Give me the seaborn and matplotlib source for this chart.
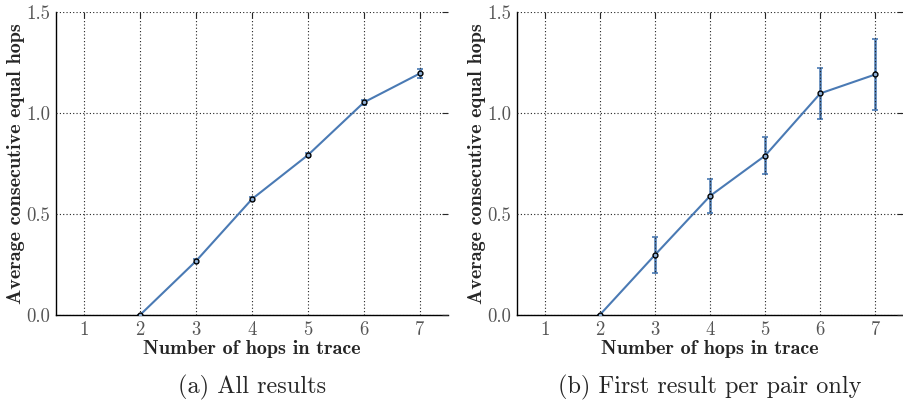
import numpy as np
import pandas as pd
import matplotlib as mpl
mpl.use("Agg")
import matplotlib.pyplot as plt
import seaborn as sns

# Data
hops = [2, 3, 4, 5, 6, 7]
all_mean = [0.0, 0.267, 0.574, 0.792, 1.053, 1.196]
all_err = [0.0, 0.008, 0.008, 0.008, 0.013, 0.022]
first_mean = [0.0, 0.297, 0.589, 0.789, 1.097, 1.191]
first_err = [0.0, 0.090, 0.083, 0.093, 0.127, 0.177]

captions = ["(a) All results", "(b) First result per pair only"]
xlabel = "Number of hops in trace"
ylabel = "Average consecutive equal hops"
line_color = "#4a7ab4"

sns.set_style("white")
plt.rcParams['font.family'] = 'serif'
plt.rcParams['font.serif'] = ['cmr10', 'DejaVu Serif']
plt.rcParams['mathtext.fontset'] = 'cm'
plt.rcParams['axes.formatter.use_mathtext'] = True
plt.rcParams['axes.unicode_minus'] = False

fig = plt.figure(figsize=(9.04, 4.03), dpi=100)
ax1 = fig.add_axes([56 / 904, 88 / 403, 392 / 904, 303 / 403])
ax2 = fig.add_axes([517 / 904, 88 / 403, 386 / 904, 303 / 403])

for ax, mean, err, cap in [(ax1, all_mean, all_err, captions[0]),
                           (ax2, first_mean, first_err, captions[1])]:
    df = pd.DataFrame({"hops": hops, "val": mean})
    ax.errorbar(hops, mean, yerr=err, fmt='none', ecolor=line_color,
                elinewidth=1.8, capsize=2.5, capthick=1.2, zorder=2)
    sns.lineplot(data=df, x="hops", y="val", ax=ax, color=line_color,
                 linewidth=1.5, marker='o', markersize=3.5,
                 markerfacecolor='#8fb0d6', markeredgecolor='black',
                 markeredgewidth=1.0, zorder=3)
    ax.set_xlim(0.5, 7.5)
    ax.set_ylim(0, 1.5)
    ax.set_xticks([1, 2, 3, 4, 5, 6, 7])
    ax.set_yticks([0.0, 0.5, 1.0, 1.5])
    ax.set_yticklabels(["0.0", "0.5", "1.0", "1.5"])
    ax.grid(True, color='#222222', linestyle=(0, (1, 2)), linewidth=0.8)
    ax.set_axisbelow(False)
    for s in ['top', 'right']:
        ax.spines[s].set_visible(False)
    for s in ['left', 'bottom']:
        ax.spines[s].set_color('black')
        ax.spines[s].set_linewidth(1.0)
    ax.tick_params(direction='in', length=4, width=0.8, top=True, right=True,
                   labelsize=13.5, labelcolor='#555555', pad=4)
    ax.set_xlabel(xlabel, fontsize=14.5, fontfamily='cmb10', labelpad=1)
    ax.set_ylabel(ylabel, fontsize=14.5, fontfamily='cmb10', labelpad=1)
    pos = ax.get_position()
    fig.text((pos.x0 + pos.x1) / 2, 16 / 403, cap, ha='center', va='center',
             fontsize=17.5)

fig.savefig("out.png", dpi=100)
